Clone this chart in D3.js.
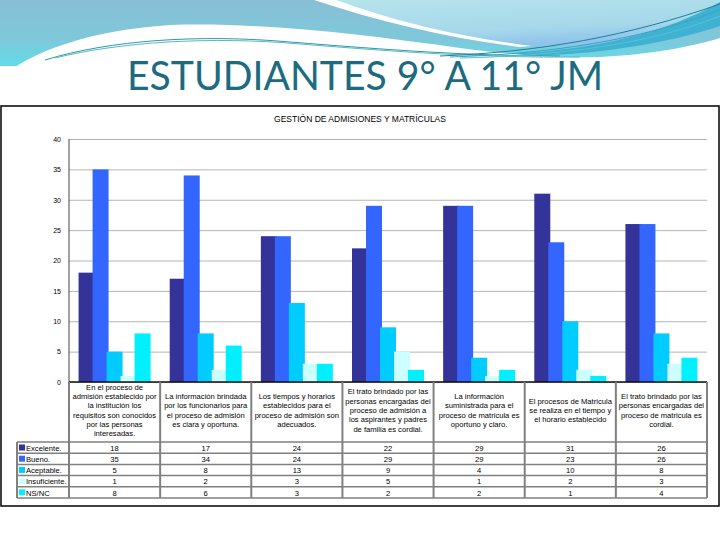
<!DOCTYPE html>
<html>
<head>
<meta charset="utf-8">
<script src="https://cdn.jsdelivr.net/npm/d3@7"></script>
<style>
  body { margin: 0; background: #fff; }
  svg { display: block; }
  text { font-family: "Liberation Sans", Arial, sans-serif; }
</style>
</head>
<body>
<script>
// chart values
var categories = [
  ["En el proceso de", "admisión establecido por", "la institución los", "requisitos son conocidos", "por las personas", "interesadas."],
  ["La información brindada", "por los funcionarios para", "el proceso de admisión", "es clara y oportuna."],
  ["Los tiempos y horarios", "establecidos para el", "proceso de admisión son", "adecuados."],
  ["El trato brindado por las", "personas encargadas del", "proceso de admisión a", "los aspirantes y padres", "de familia es cordial."],
  ["La información", "suministrada para el", "proceso de matricula es", "oportuno y claro."],
  ["El procesos de Matricula", "se realiza en el tiempo y", "el horario establecido"],
  ["El trato brindado por las", "personas encargadas del", "proceso de matricula es", "cordial."]
];
var seriesNames = ["Excelente.", "Bueno.", "Aceptable.", "Insuficiente.", "NS/NC"];
var excelente    = [18, 17, 24, 22, 29, 31, 26];
var bueno        = [35, 34, 24, 29, 29, 23, 26];
var aceptable    = [5, 8, 13, 9, 4, 10, 8];
var insuficiente = [1, 2, 3, 5, 1, 2, 3];
var nsnc         = [8, 6, 3, 2, 2, 1, 4];
var yTicks = [0, 5, 10, 15, 20, 25, 30, 35, 40];

var series = [excelente, bueno, aceptable, insuficiente, nsnc];
var colors = ["#333399", "#3366ff", "#00ccff", "#ccffff", "#00f0ff"];

var w = 720, h = 540;
var svg = d3.select("body").append("svg").attr("width", w).attr("height", h);

// --- slide decoration on top ---
var defs = svg.append("defs");
function grad(id, x2, y2, stops) {
  var g = defs.append("linearGradient").attr("id", id)
    .attr("x1", 0).attr("y1", 0).attr("x2", x2).attr("y2", y2);
  stops.forEach(function(s) {
    g.append("stop").attr("offset", s[0]).attr("stop-color", s[1]);
  });
}
grad("topband", 0, 1, [["0%", "#88bfd5"], ["60%", "#7ec8da"], ["100%", "#62dbe8"]]);
grad("light", 0.4, 1, [["0%", "#b6e4ec"], ["70%", "#a6d8ea"], ["100%", "#8fc3ea"]]);

svg.append("rect").attr("x", 0).attr("y", 0).attr("width", w).attr("height", 66).attr("fill", "url(#topband)");
// light area top right
svg.append("path")
  .attr("d", "M332,0 L720,0 L720,24 C660,40 600,48 530,46 C450,36 390,20 332,0 Z")
  .attr("fill", "url(#light)");
// white stripe
svg.append("path")
  .attr("d", "M314,0 L336,0 C392,20 452,36 532,46 L520,47 C448,38 380,22 314,0 Z")
  .attr("fill", "#ffffff");
// blue band lower right
svg.append("path")
  .attr("d", "M470,55 C580,54 660,36 720,2 L720,26 C660,46 580,58 470,57 Z")
  .attr("fill", "#3fb1d2");
// white wave under everything
svg.append("path")
  .attr("d", "M0,78 C30,52 90,30 170,25 C260,22 360,34 460,48 C520,56 560,58 600,57 C660,54 700,44 720,38 L720,540 L0,540 Z")
  .attr("fill", "#ffffff");
[["M45,60 C110,40 200,34 290,42 C390,50 470,56 560,56", "#2a9aa8"],
 ["M55,58 C120,42 210,36 300,44 C400,52 480,58 580,57", "#5ab8c4"],
 ["M440,56 C540,52 630,36 720,4", "#1e7f9a"],
 ["M450,57 C550,54 640,40 720,10", "#38a6c0"],
 ["M460,58 C560,56 650,44 720,16", "#58c0d6"]].forEach(function(p) {
  svg.append("path").attr("d", p[0]).attr("fill", "none").attr("stroke", p[1]).attr("stroke-width", 1);
});

svg.append("text")
  .attr("x", 365).attr("y", 90)
  .attr("text-anchor", "middle")
  .style("font-family", "Lato, 'Liberation Sans', sans-serif")
  .attr("font-size", 40)
  .attr("textLength", 476).attr("lengthAdjust", "spacingAndGlyphs")
  .attr("fill", "#1c6b80")
  .text("ESTUDIANTES 9° A  11° JM");

// --- chart frame ---
svg.append("rect").attr("x", 1).attr("y", 106).attr("width", 718).attr("height", 400)
  .attr("fill", "#fff").attr("stroke", "#000").attr("stroke-width", 1.5);

svg.append("text")
  .attr("x", 360).attr("y", 122).attr("text-anchor", "middle")
  .attr("font-size", 8.5).attr("fill", "#000")
  .text("GESTIÓN DE ADMISIONES Y MATRÍCULAS");

var plotLeft = 69, plotRight = 707, plotTop = 139, plotBase = 382;

var x = d3.scaleBand().domain(d3.range(categories.length)).range([plotLeft, plotRight]).padding(0);
var y = d3.scaleLinear().domain([0, 40]).range([plotBase, plotTop]);
var xs = d3.scaleLinear().domain([0, series.length - 1]).range([-36, 20]); // bar offset from group centre
var barW = 16;

// gridlines + y labels
var yAxis = svg.append("g")
  .attr("transform", "translate(" + plotLeft + ",0)")
  .call(d3.axisLeft(y).tickValues(yTicks).tickSize(-(plotRight - plotLeft)).tickPadding(8));
yAxis.select(".domain").remove();
yAxis.selectAll(".tick line").attr("stroke", "#b4b4b4").attr("stroke-width", 1);
yAxis.selectAll(".tick text").attr("font-size", 7).attr("fill", "#000");

svg.append("line").attr("x1", plotLeft).attr("x2", plotLeft).attr("y1", plotTop).attr("y2", plotBase)
  .attr("stroke", "#444").attr("stroke-width", 1);

// bars
series.forEach(function(vals, si) {
  svg.append("g").selectAll("rect")
    .data(vals)
    .enter()
    .append("rect")
    .attr("x", function(d, i) { return x(i) + x.bandwidth() / 2 + xs(si); })
    .attr("y", function(d) { return y(d); })
    .attr("width", barW)
    .attr("height", function(d) { return plotBase - y(d); })
    .attr("fill", colors[si]);
});

svg.append("line").attr("x1", plotLeft).attr("x2", plotRight).attr("y1", plotBase).attr("y2", plotBase)
  .attr("stroke", "#111").attr("stroke-width", 1.5);

// --- data table ---
var headBottom = 442, rowH = 11.2, labelLeft = 17;
var tableBottom = headBottom + rowH * series.length;
var grid = "#808080";
var tbl = svg.append("g");

// column separators
d3.range(categories.length + 1).forEach(function(i) {
  var xx = i < categories.length ? x(i) : plotRight;
  tbl.append("line").attr("x1", xx).attr("x2", xx).attr("y1", plotBase).attr("y2", tableBottom)
    .attr("stroke", grid).attr("stroke-width", 2);
});
tbl.append("line").attr("x1", labelLeft).attr("x2", labelLeft).attr("y1", headBottom).attr("y2", tableBottom)
  .attr("stroke", grid).attr("stroke-width", 2);
d3.range(series.length + 1).forEach(function(r) {
  var yy = headBottom + r * rowH;
  tbl.append("line").attr("x1", labelLeft).attr("x2", plotRight).attr("y1", yy).attr("y2", yy)
    .attr("stroke", grid).attr("stroke-width", 1.5);
});

// header text
categories.forEach(function(lines, i) {
  var cx = x(i) + x.bandwidth() / 2;
  var lh = 9.3;
  var mid = (plotBase + headBottom) / 2 - 2;
  var y0 = mid - (lines.length - 1) * lh / 2 + 3;
  lines.forEach(function(t, k) {
    tbl.append("text").attr("x", cx).attr("y", y0 + k * lh)
      .attr("text-anchor", "middle").attr("font-size", 7.6).attr("fill", "#000").text(t);
  });
});

// rows
series.forEach(function(vals, si) {
  var ry = headBottom + si * rowH;
  tbl.append("rect").attr("x", labelLeft + 2).attr("y", ry + 2.5).attr("width", 6).attr("height", 6)
    .attr("fill", colors[si]);
  tbl.append("text").attr("x", labelLeft + 9).attr("y", ry + 8.8)
    .attr("font-size", 7.6).attr("fill", "#000").text(seriesNames[si]);
  vals.forEach(function(v, i) {
    tbl.append("text").attr("x", x(i) + x.bandwidth() / 2).attr("y", ry + 8.8)
      .attr("text-anchor", "middle").attr("font-size", 7.6).attr("fill", "#000").text(v);
  });
});
</script>
</body>
</html>
